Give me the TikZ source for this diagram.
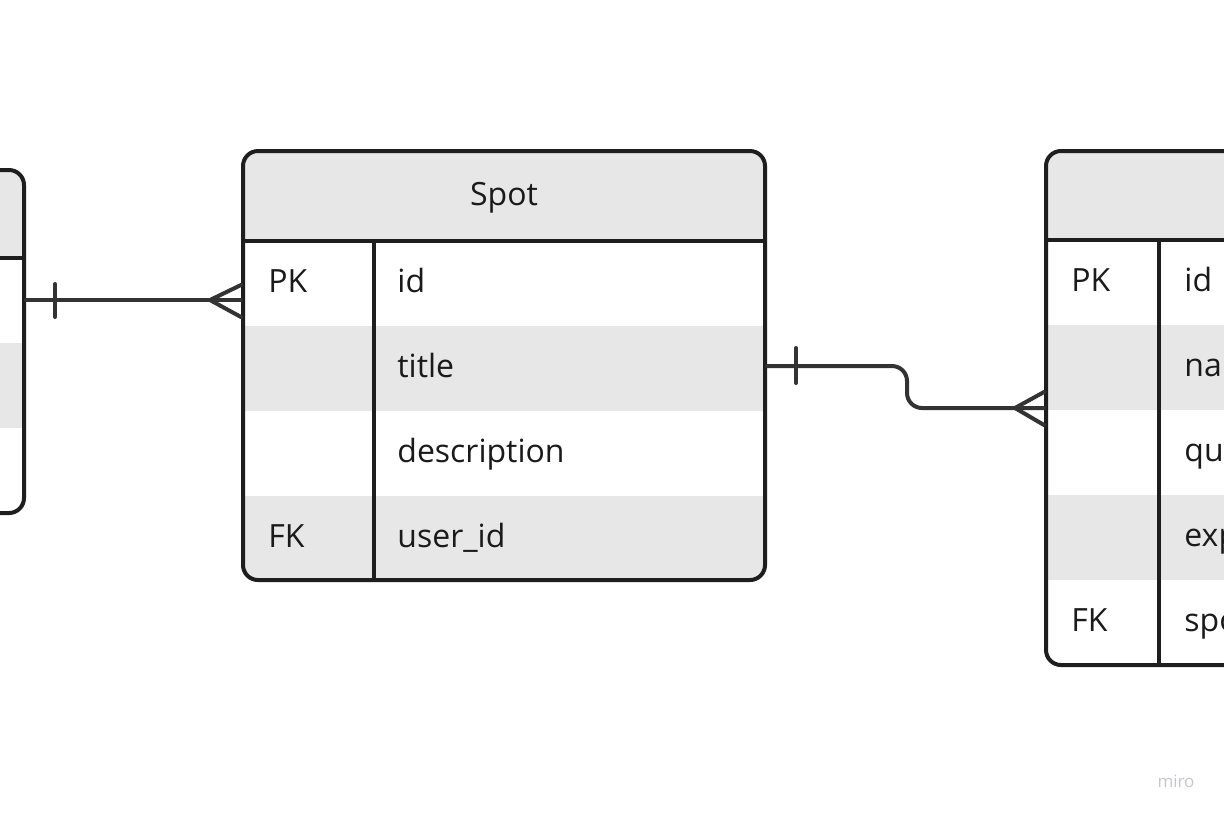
\documentclass[tikz,border=0pt]{standalone}
\usepackage{fontspec}
\setmainfont{Open Sans}
\usetikzlibrary{positioning}
\definecolor{tableline}{HTML}{1E1E1E}
\definecolor{linkcolor}{HTML}{333333}
\definecolor{rowgray}{HTML}{E7E7E7}
\definecolor{fieldtext}{HTML}{1A1A1A}
\definecolor{miroGray}{HTML}{C6C6CC}
\tikzset{
  mytable/.style={
    draw=tableline,
    shape=rectangle,
    line width=2pt,
    rounded corners=7.5pt,
    inner sep=0pt,
  },
  myrule/.style={
    draw=tableline,
    line width=2pt,
  },
  myfield/.style={
    anchor=base west,
    inner sep=0pt,
    text=fieldtext,
    font=\fontsize{16}{19}\selectfont
  },
  mytitle/.style={
    anchor=base,
    inner sep=0pt,
    text=fieldtext,
    font=\fontsize{16}{19}\selectfont
  },
  mylink/.style={
    draw=linkcolor,
    line width=2pt,
    line cap=round,
    line join=round,
  }
}

\begin{document}
\begin{tikzpicture}[x=0.5pt, y=-0.5pt]
    \clip (0,0) rectangle (1224,816);
    \fill[white] (0,0) rectangle (1224,816);

    % row fills
    \begin{scope}
      \clip[rounded corners=7.5pt] (-300,170) rectangle (24,513);
      \fill[rowgray] (-300,170) rectangle (24,258);
      \fill[rowgray] (-300,343) rectangle (24,428);
    \end{scope}
    \begin{scope}
      \clip[rounded corners=7.5pt] (243,151) rectangle (765,580);
      \fill[rowgray] (243,151) rectangle (765,241);
      \fill[rowgray] (243,326) rectangle (765,411);
      \fill[rowgray] (243,496) rectangle (765,580);
    \end{scope}
    \begin{scope}
      \clip[rounded corners=7.5pt] (1046,151) rectangle (1568,665);
      \fill[rowgray] (1046,151) rectangle (1568,240);
      \fill[rowgray] (1046,325) rectangle (1568,410);
      \fill[rowgray] (1046,495) rectangle (1568,580);
    \end{scope}

    % tables
    \node[mytable, minimum width=162pt,   minimum height=171.5pt] (user) at (-138,341.5) {};
    \node[mytable, minimum width=261pt,   minimum height=214.5pt] (spot) at (504,365.5)  {};
    \node[mytable, minimum width=261pt,   minimum height=257pt]   (item) at (1307,408)   {};

    \draw[myrule] (user.west |- 0,258) -- (user.east |- 0,258);
    \draw[myrule] (spot.west |- 0,241) -- (spot.east |- 0,241);
    \draw[myrule] (374,241) -- (spot.south -| 374,0);
    \draw[myrule] (item.west |- 0,240) -- (item.east |- 0,240);
    \draw[myrule] (1159,240) -- (item.south -| 1159,0);

    % texts
    \node[mytitle] (spottitle) at (504,205) {Spot};
    \node[myfield] (spotpk)    at (268,292) {PK};
    \node[myfield] (spotid)    at (397,292) {id};
    \node[myfield] (spottitle2) at (397,377) {title};
    \node[myfield] (spotdesc)  at (397,462) {description};
    \node[myfield] (spotfk)    at (268,547) {FK};
    \node[myfield] (spotuser)  at (397,547) {user\_id};

    \node[myfield] (itempk)    at (1071,291) {PK};
    \node[myfield] (itemid)    at (1184,291) {id};
    \node[myfield] (itemname)  at (1184,376) {name};
    \node[myfield] (itemqty)   at (1184,461) {quantity};
    \node[myfield] (itemexp)   at (1184,546) {expiration};
    \node[myfield] (itemfk)    at (1071,631) {FK};
    \node[myfield] (itemspot)  at (1184,631) {spot\_id};

    % links
    \draw[mylink] (user.east |- 0,300) -- (spot.west |- 0,300);
    \draw[mylink] (55,284) -- (55,317);
    \draw[mylink] (spot.west |- 0,285) -- (210,300) -- (spot.west |- 0,317);

    \draw[mylink, rounded corners=7.5pt] (spot.east |- 0,366) -- (907,366) -- (907,408) -- (item.west |- 0,408);
    \draw[mylink] (796,348) -- (796,383);
    \draw[mylink] (item.west |- 0,392) -- (1015,408) -- (item.west |- 0,425);

    \node[anchor=base, inner sep=0pt, text=miroGray, font=\fontsize{8.5}{10}\selectfont] (miro) at (1176,787) {miro};
  \end{tikzpicture}
\end{document}
